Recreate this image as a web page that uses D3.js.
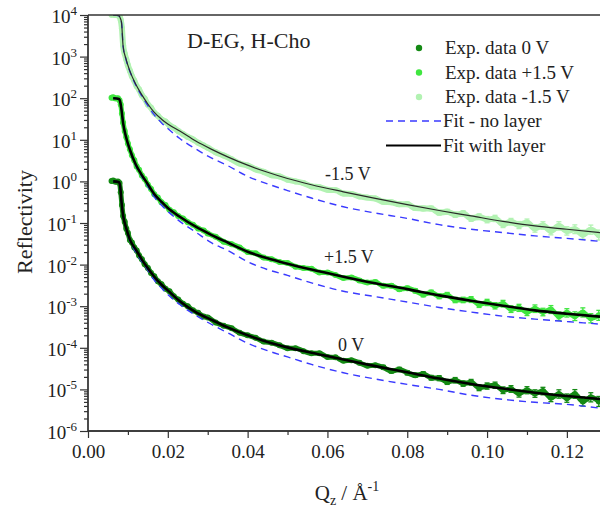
<!DOCTYPE html>
<html>
<head>
<meta charset="utf-8">
<script src="https://cdn.jsdelivr.net/npm/d3@7"></script>
<style>
  body { margin: 0; background: #fff; }
  svg { display: block; }
  text { font-family: "Liberation Serif", "Times New Roman", serif; fill: #222; }
</style>
</head>
<body>
<div class="chart"></div>
<script>
// all reflectivities are kept as log10(R)
const fitQ = [0.0063,0.0078,0.0081,0.0084,0.0088,0.0095,0.0105,0.0120,0.0135,0.0150,0.0165,0.0185,0.0200,0.0230,0.0270,
  0.0310,0.0350,0.0400,0.0450,0.0500,0.0560,0.0640,0.0720,0.0800,0.0880,0.0960,0.1040,0.1120,0.1200,0.1283];

const fitLayer0 = [0.00,-0.02,-0.15,-0.50,-0.82,-1.10,-1.40,-1.64,-1.88,-2.09,-2.28,-2.49,-2.62,-2.88,-3.14,
  -3.33,-3.51,-3.70,-3.86,-3.99,-4.12,-4.28,-4.44,-4.59,-4.74,-4.87,-4.98,-5.08,-5.16,-5.23];
const fitBare0 = [0.00,-0.02,-0.15,-0.50,-0.82,-1.12,-1.43,-1.70,-1.93,-2.14,-2.36,-2.57,-2.72,-2.96,-3.22,
  -3.44,-3.64,-3.89,-4.07,-4.22,-4.40,-4.60,-4.75,-4.88,-5.00,-5.14,-5.24,-5.31,-5.36,-5.45];
const fitLayerP = [2.00,1.98,1.90,1.72,1.40,1.08,0.76,0.40,0.15,-0.07,-0.29,-0.50,-0.64,-0.85,-1.09,
  -1.29,-1.47,-1.69,-1.85,-1.98,-2.12,-2.29,-2.45,-2.59,-2.74,-2.87,-2.99,-3.10,-3.18,-3.25];
const fitBareP = [2.00,1.98,1.90,1.72,1.40,1.07,0.74,0.37,0.11,-0.12,-0.36,-0.58,-0.72,-0.96,-1.22,
  -1.48,-1.66,-1.93,-2.12,-2.26,-2.44,-2.64,-2.77,-2.90,-3.03,-3.14,-3.24,-3.31,-3.37,-3.43];
const fitLayerM = [4.00,3.98,3.92,3.82,3.25,2.95,2.65,2.33,2.08,1.86,1.67,1.49,1.38,1.21,0.97,
  0.77,0.59,0.39,0.22,0.07,-0.08,-0.25,-0.41,-0.56,-0.70,-0.83,-0.96,-1.07,-1.15,-1.23];
const fitBareM = [4.00,3.98,3.92,3.82,3.25,2.94,2.64,2.31,2.05,1.82,1.61,1.40,1.27,1.03,0.78,
  0.56,0.38,0.12,-0.06,-0.22,-0.40,-0.61,-0.76,-0.89,-1.04,-1.15,-1.23,-1.31,-1.37,-1.44];

const dataQ = [0.0059,0.0063,0.0067,0.0071,0.0075,0.0079,0.0082,0.0085,0.0088,0.0092,0.0096,0.0100,0.0105,0.0110,
  0.0116,0.0122,0.0128,0.0135,0.0142,0.0150,0.0158,0.0166,0.0175,0.0184,0.0194,0.0204,0.0215,0.0226,0.0238,
  0.0250,0.0263,0.0276,0.0290,
  0.030,0.032,0.034,0.036,0.038,0.040,0.042,0.044,0.046,0.048,0.050,0.052,0.054,0.056,0.058,0.060,0.062,0.064,
  0.066,0.068,0.070,0.072,0.074,0.076,0.078,0.080,0.082,0.084,0.086,0.088,0.090,0.092,0.094,0.096,0.098,0.100,
  0.102,0.104,0.106,0.108,0.110,0.112,0.114,0.116,0.118,0.120,0.122,0.124,0.126,0.128];

const data0V = [0.01,0.02,0.00,-0.01,0.00,-0.04,-0.26,-0.57,-0.83,-0.97,-1.14,-1.24,-1.41,-1.47,-1.59,-1.66,-1.78,
  -1.87,-1.99,-2.08,-2.20,-2.28,-2.40,-2.47,-2.58,-2.64,-2.76,-2.84,-2.94,-3.00,-3.10,-3.16,-3.25,
  -3.27,-3.39,-3.47,-3.53,-3.64,-3.70,-3.76,-3.85,-3.88,-3.94,
  -4.01,-4.01,-4.08,-4.13,-4.13,-4.22,-4.23,-4.31,-4.30,-4.36,
  -4.43,-4.42,-4.47,-4.56,-4.52,-4.60,-4.66,-4.63,-4.72,-4.73,
  -4.82,-4.78,-4.86,-4.83,-4.96,-4.92,-4.90,-5.02,-4.99,-5.10,
  -5.02,-5.10,-5.04,-5.20,-5.11,-5.21,-5.11,-5.29,-5.19,-5.29];
const dataPlus = [2.01,2.02,2.00,1.99,2.00,1.95,1.85,1.63,1.41,1.21,1.06,0.91,0.77,0.63,0.51,0.36,0.28,0.14,0.06,
  -0.08,-0.18,-0.31,-0.39,-0.50,-0.57,-0.68,-0.74,-0.83,-0.89,-0.98,-1.04,-1.13,-1.18,
  -1.25,-1.33,-1.45,-1.51,-1.59,-1.70,-1.73,-1.83,-1.87,-1.94,
  -1.96,-2.05,-2.08,-2.10,-2.19,-2.19,-2.25,-2.32,-2.31,-2.38,
  -2.43,-2.42,-2.51,-2.51,-2.59,-2.57,-2.63,-2.72,-2.67,-2.76,
  -2.73,-2.85,-2.85,-2.84,-2.96,-2.91,-2.99,-2.94,-3.07,-3.04,
  -3.14,-3.06,-3.14,-3.08,-3.24,-3.16,-3.24,-3.15,-3.29,-3.22];
const dataMinus = [4.01,4.02,4.00,4.01,3.99,3.97,3.88,3.68,3.27,3.07,2.93,2.79,2.66,2.53,2.42,2.29,2.21,2.07,1.99,
  1.85,1.77,1.65,1.58,1.49,1.44,1.35,1.29,1.21,1.14,1.07,1.01,0.93,0.86,
  0.81,0.70,0.62,0.53,0.43,0.38,0.29,0.23,0.15,0.12,
  0.04,0.00,-0.04,-0.12,-0.14,-0.20,-0.21,-0.29,-0.30,-0.36,
  -0.39,-0.41,-0.49,-0.50,-0.55,-0.55,-0.64,-0.65,-0.65,-0.75,
  -0.73,-0.80,-0.77,-0.89,-0.85,-0.92,-0.89,-1.03,-0.97,-1.05,
  -0.99,-1.13,-1.06,-1.19,-1.07,-1.19,-1.15,-1.28,-1.16,-1.29];

// half length of the error bars, in decades
const errLog = [0,0,0,0,0,0,0,0,0,0,0,0,0,0,0,0,0,0,0,0,0,0,0,0,0,0,0,0,0,0,0,0,0,
  0.01,0.01,0.01,0.01,0.015,0.015,0.015,0.02,0.02,0.02,0.02,0.025,0.025,0.025,0.03,
  0.03,0.03,0.035,0.035,0.04,0.04,0.04,0.045,0.045,0.05,0.05,0.05,0.055,0.055,0.06,
  0.06,0.065,0.065,0.07,0.07,0.075,0.075,0.08,0.08,0.085,0.085,0.09,0.09,0.095,0.1,0.1,0.105,0.11,0.11,0.12];

const xTicks = [0, 0.02, 0.04, 0.06, 0.08, 0.10, 0.12];
const xMinor = [0.01, 0.03, 0.05, 0.07, 0.09, 0.11];
const yExponents = [4, 3, 2, 1, 0, -1, -2, -3, -4, -5, -6];
const legendData = ['Exp. data 0 V', 'Exp. data +1.5 V', 'Exp. data -1.5 V'];
const legendFits = ['Fit - no layer', 'Fit with layer'];
const curveLabels = ['-1.5 V', '+1.5 V', '0 V'];

const W = 600, H = 512;
const svg = d3.select('.chart').append('svg')
  .attr('width', W)
  .attr('height', H);

const x = d3.scaleLinear().domain([0, 0.1283]).range([88, 600]);
const y = d3.scaleLog().domain([1e-6, 1e4]).range([431, 15]);

svg.append('clipPath').attr('id', 'plot')
  .append('rect').attr('x', 88).attr('y', 15).attr('width', 512).attr('height', 416);

const pts = (qs, logs) => qs.map((q, i) => ({ q, r: Math.pow(10, logs[i]), e: errLog[i] || 0 }));
const line = d3.line().x(d => x(d.q)).y(d => y(d.r)).curve(d3.curveMonotoneX);

const series = [
  { label: curveLabels[0], data: dataMinus, layer: fitLayerM, bare: fitBareM, color: '#b2f2b2', band: 7, fitW: 1.2, fitC: '#2a2a2a' },
  { label: curveLabels[1], data: dataPlus, layer: fitLayerP, bare: fitBareP, color: '#3fe63f', band: 6, fitW: 2.6, fitC: '#000' },
  { label: curveLabels[2], data: data0V, layer: fitLayer0, bare: fitBare0, color: '#148a14', band: 6, fitW: 2.6, fitC: '#000' }
];

const plot = svg.append('g').attr('clip-path', 'url(#plot)');

// experimental data: dense band where points overlap, then error bars and markers
series.forEach(s => {
  const p = pts(dataQ, s.data);
  plot.append('path')
    .attr('d', line(p))
    .attr('fill', 'none')
    .attr('stroke', s.color)
    .attr('stroke-width', s.band - 1)
    .attr('stroke-linejoin', 'round')
    .attr('stroke-linecap', 'round');
  const eb = plot.append('g').attr('stroke', s.color).attr('stroke-width', 1.3);
  p.filter(d => d.e > 0).forEach(d => {
    const lo = y(d.r / Math.pow(10, d.e)), hi = y(d.r * Math.pow(10, d.e)), cx = x(d.q);
    eb.append('line').attr('x1', cx).attr('x2', cx).attr('y1', lo).attr('y2', hi);
    eb.append('line').attr('x1', cx - 2.5).attr('x2', cx + 2.5).attr('y1', lo).attr('y2', lo);
    eb.append('line').attr('x1', cx - 2.5).attr('x2', cx + 2.5).attr('y1', hi).attr('y2', hi);
  });
  plot.append('g').selectAll('circle')
    .data(p)
    .enter()
    .append('circle')
    .attr('cx', d => x(d.q))
    .attr('cy', d => y(d.r))
    .attr('r', 3)
    .attr('fill', s.color);
});

// fits without layer
series.forEach(s => {
  plot.append('path')
    .attr('d', line(pts(fitQ, s.bare)))
    .attr('fill', 'none')
    .attr('stroke', '#3a3aff')
    .attr('stroke-width', 1.4)
    .attr('stroke-dasharray', '7,5');
});

// fits with layer
series.forEach(s => {
  plot.append('path')
    .attr('d', line(pts(fitQ, s.layer)))
    .attr('fill', 'none')
    .attr('stroke', s.fitC)
    .attr('stroke-width', s.fitW);
});

// axes
const axisColor = '#333';
const xAxis = svg.append('g').attr('transform', 'translate(0,431)')
  .call(d3.axisBottom(x).tickValues(xTicks).tickSize(7).tickFormat(d3.format('.2f')));
const xAxisMinor = svg.append('g').attr('transform', 'translate(0,431)')
  .call(d3.axisBottom(x).tickValues(xMinor).tickSize(4).tickFormat(''));
[xAxis, xAxisMinor].forEach(g => {
  g.select('.domain').attr('d', 'M88,0H600').attr('stroke', axisColor).attr('stroke-width', 1.3);
  g.selectAll('line').attr('stroke', axisColor).attr('stroke-width', 1.2);
});
xAxis.selectAll('text')
  .attr('y', 14)
  .attr('font-size', 19)
  .attr('font-family', '"Liberation Serif", serif')
  .attr('fill', '#222');

const yMinor = [];
yExponents.slice(1).forEach(e => { for (let m = 2; m <= 9; m++) yMinor.push(m * Math.pow(10, e)); });
const yAxis = svg.append('g').attr('transform', 'translate(88,0)')
  .call(d3.axisLeft(y).tickValues(yExponents.map(e => Math.pow(10, e))).tickSize(8).tickFormat(''));
const yAxisMinor = svg.append('g').attr('transform', 'translate(88,0)')
  .call(d3.axisLeft(y).tickValues(yMinor).tickSize(4).tickFormat(''));
[yAxis, yAxisMinor].forEach(g => {
  g.select('.domain').attr('d', 'M0,15V431').attr('stroke', axisColor).attr('stroke-width', 1.3);
  g.selectAll('line').attr('stroke', axisColor).attr('stroke-width', 1.2);
});

yExponents.forEach(e => {
  const t = svg.append('text')
    .attr('x', 77)
    .attr('y', y(Math.pow(10, e)) + 8)
    .attr('text-anchor', 'end')
    .attr('font-size', 19)
    .text('10');
  t.append('tspan').attr('dy', -8).attr('font-size', 13).text(e < 0 ? '-' + (-e) : e);
});

// top frame line
svg.append('line')
  .attr('x1', 88).attr('x2', 600).attr('y1', 15).attr('y2', 15)
  .attr('stroke', axisColor).attr('stroke-width', 1.3);

// axis titles
const xt = svg.append('text')
  .attr('x', 347).attr('y', 500)
  .attr('text-anchor', 'middle')
  .attr('font-size', 21)
  .text('Q');
xt.append('tspan').attr('dy', 5).attr('font-size', 14).text('z');
xt.append('tspan').attr('dy', -5).text(' / Å');
xt.append('tspan').attr('dy', -9).attr('font-size', 14).text('-1');

svg.append('text')
  .attr('transform', 'translate(32,222) rotate(-90)')
  .attr('text-anchor', 'middle')
  .attr('font-size', 22)
  .text('Reflectivity');

svg.append('text')
  .attr('x', 187).attr('y', 48)
  .attr('font-size', 22)
  .text('D-EG, H-Cho');

// curve labels
const labelPos = [[325, 180], [324, 263], [338, 351]];
curveLabels.forEach((l, i) => {
  svg.append('text')
    .attr('x', labelPos[i][0]).attr('y', labelPos[i][1])
    .attr('font-size', 18)
    .text(l);
});

// legend
const legColors = [series[2].color, series[1].color, series[0].color];
legendData.forEach((l, i) => {
  const yy = 48 + i * 24.5;
  svg.append('circle').attr('cx', 419).attr('cy', yy).attr('r', 3.2).attr('fill', legColors[i]);
  svg.append('text').attr('x', 445).attr('y', yy + 6).attr('font-size', 19).text(l);
});
legendFits.forEach((l, i) => {
  const yy = 121 + i * 24.5;
  svg.append('line')
    .attr('x1', 386).attr('x2', 441).attr('y1', yy).attr('y2', yy)
    .attr('stroke', i === 0 ? '#3a3aff' : '#000')
    .attr('stroke-width', i === 0 ? 1.4 : 2.2)
    .attr('stroke-dasharray', i === 0 ? '7,5' : null);
  svg.append('text').attr('x', 443).attr('y', yy + 6).attr('font-size', 19).text(l);
});
</script>
</body>
</html>
